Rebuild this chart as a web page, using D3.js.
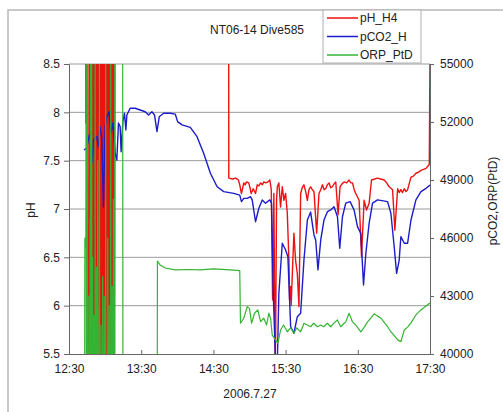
<!DOCTYPE html>
<html>
<head>
<meta charset="utf-8">
<script src="https://cdn.jsdelivr.net/npm/d3@7"></script>
<style>
  body { margin: 0; background: #fff; }
  svg { display: block; }
</style>
</head>
<body>
<div id="chart"></div>
<script>
// times are minutes after 12:30 on 2006.7.27
const startClock = "12:30";
const timeTicks = ["12:30", "13:30", "14:30", "15:30", "16:30", "17:30"];
const phTicks = [5.5, 6, 6.5, 7, 7.5, 8, 8.5];
const rightTicks = [40000, 43000, 46000, 49000, 52000, 55000];
const seriesNames = ["pH_H4", "pCO2_H", "ORP_PtD"];

// pH_H4 (left axis)
const pHH4 = [
  [13.9, 9], [14.0, 7.89], [14.5, 7.89], [14.6, 9], [15.5, 9], [15.6, 5], [16.2, 6.6], [16.5, 5],
  [17.0, 9], [17.4, 5], [17.9, 9], [18.3, 5], [18.8, 9], [19.2, 5], [19.6, 9], [20.0, 5],
  [20.4, 9], [20.8, 5], [21.2, 9], [21.6, 5], [22.0, 9], [22.4, 5], [22.8, 9], [23.2, 5],
  [23.6, 9], [24.1, 5], [24.6, 9], [25.0, 6.0], [25.4, 9], [25.8, 5], [26.2, 9], [26.6, 5],
  [27.0, 9], [27.4, 5], [27.8, 9], [28.2, 5], [28.6, 9], [29.0, 5], [29.4, 9], [29.8, 5],
  [30.2, 9], [30.6, 5], [31.0, 9], [31.4, 5], [31.8, 9], [32.2, 5], [32.6, 9], [33.0, 5],
  [33.4, 9], [33.8, 5], [34.2, 9], [34.6, 5], [35.0, 9], [35.4, 5], [35.8, 9], [36.2, 5],
  [36.6, 9], [37.0, 5], [37.4, 9], [37.8, 5], [38.2, 9],
  [132.7, 9], [132.8, 7.32], [136.0, 7.31], [138.5, 7.32], [140.8, 7.30], [141.9, 7.25],
  [143.3, 7.16], [145.25, 7.27], [146.3, 7.25], [147.5, 7.28], [149.4, 7.27], [150.4, 7.22],
  [151.4, 7.16], [153.1, 7.21], [155, 7.16], [156.4, 7.25], [157.8, 7.24], [159.2, 7.27],
  [160.6, 7.25], [161.9, 7.28], [163.5, 7.27], [165.25, 7.28], [166.9, 7.30], [168.1, 7.20],
  [169.2, 6.06], [170.25, 7.16], [171.25, 5.45], [171.7, 5.65], [172.5, 7.09], [173.1, 7.23],
  [174.4, 7.27], [175.8, 7.02], [177.25, 7.23], [178.6, 7.09], [180, 7.16], [181.4, 6.96],
  [182.75, 6.47], [183.3, 6.06], [184.2, 6.2], [184.6, 6.0], [185.6, 6.33], [186.9, 6.75],
  [188.3, 6.47], [189.75, 6.33], [191.1, 5.99], [192.5, 7.16], [193.8, 7.22], [195.25, 7.25],
  [196.7, 7.18], [198.1, 7.09], [199.4, 7.2], [200.8, 7.23], [202.2, 7.2], [203.6, 7.18],
  [205.8, 6.75], [207.75, 7.16], [209.2, 7.2], [210.6, 7.25], [212.0, 7.2], [213.3, 7.21],
  [214.7, 7.25], [216.1, 7.27], [217.5, 7.22], [218.9, 7.23], [220.3, 7.26], [221.7, 7.28],
  [223.6, 6.94], [225.25, 7.23], [226.9, 7.26], [228.6, 7.28], [230.7, 7.27], [232.75, 7.30],
  [234.2, 7.27], [235.6, 7.27], [237.0, 7.2], [238.3, 7.16], [241.1, 7.09], [243.1, 6.51],
  [245.25, 7.09], [247.25, 6.99], [249.4, 7.06], [251.4, 7.30], [254.0, 7.31], [256.4, 7.32],
  [259.0, 7.31], [261.9, 7.30], [264.0, 7.27], [266.1, 7.23], [268.9, 7.20], [270.8, 6.78],
  [273.1, 7.21], [274.4, 7.17], [275.8, 7.20], [277.2, 7.17], [278.6, 7.21], [280.0, 7.18],
  [281.4, 7.20], [284.2, 7.33], [286.2, 7.34], [288.3, 7.37], [290.4, 7.38], [292.5, 7.40],
  [296.7, 7.42], [299.4, 7.46], [300, 8.6]
];

// pCO2_H (right axis)
const pCO2H = [
  [12.5, 50550], [14.75, 50660], [16.9, 51330], [18.3, 51070], [19.2, 49950], [20.25, 51070],
  [23.1, 51240], [24.4, 50720], [25.8, 51760], [27.25, 51170], [28.6, 47620], [30, 51760],
  [31.4, 52270], [33.3, 52530], [34.75, 51430], [36.4, 51950], [38.3, 50400], [39.75, 50030],
  [41.1, 51950], [42.5, 51760], [43.3, 50460], [44.75, 52020], [46.1, 52450], [47.25, 51590],
  [48.1, 52360], [50.8, 52710], [55, 52710], [59.2, 52620], [63.3, 52530], [66.1, 52360],
  [68.9, 52530], [71.1, 52360], [73.1, 51500], [75, 52270], [78.6, 52450], [84.2, 52450],
  [88.3, 52410], [90.25, 52020], [93.9, 51850], [100.8, 51720], [106.4, 51240], [111.9, 50380],
  [117.5, 49350], [123.1, 48650], [128.6, 48400], [136.9, 48310], [141.9, 48220], [143.3, 47880],
  [145.25, 48050], [148.1, 48050], [150.8, 48140], [152.25, 47970], [155, 46840], [157.75, 47540],
  [160.6, 47970], [163.3, 47800], [166.9, 47970], [168.3, 47800], [169.75, 43140], [171.7, 39500],
  [173.1, 39500], [174.4, 43140], [177.25, 45730], [180, 45380], [181.9, 45030], [184.2, 41410],
  [186.9, 41070], [189.75, 41930], [192.5, 42110], [195.25, 44860], [198.1, 46930], [200.8, 47340],
  [203.6, 46160], [205, 45900], [206.9, 44350], [209.2, 45900], [211.9, 46930], [214.75, 47360],
  [217.5, 47450], [220.25, 47620], [223.1, 47100], [225, 45470], [227.25, 47100], [230, 47800],
  [233.6, 47880], [236.9, 47450], [239.75, 46590], [242.5, 46240], [244.75, 43570], [246.7, 45210],
  [249.4, 46760], [252.25, 47800], [256.4, 47970], [264.75, 47880], [267.5, 47280], [270.25, 45550],
  [272.25, 44170], [274.4, 44860], [275.8, 46070], [278.6, 45730], [281.4, 45730], [284.2, 46930],
  [288.3, 47970], [292.5, 48400], [296.7, 48570], [300, 48740]
];

// ORP_PtD (right axis)
const orpPtD = [
  [13.0, 38000], [13.2, 46000], [14.0, 45500], [14.2, 58000], [14.4, 38000],
  [15.2, 38000], [15.3, 58000], [15.4, 38000],
  [16.4, 38000], [16.5, 43000], [16.7, 38000],
  [17.4, 38000], [17.5, 47000], [17.7, 41000], [17.9, 58000], [18.1, 38000],
  [18.8, 38000], [18.9, 58000], [19.0, 38000],
  [19.6, 38000], [19.7, 45000], [19.8, 38000],
  [20.6, 38000], [20.7, 42000], [20.9, 38000],
  [21.6, 38000], [21.7, 58000], [21.8, 38000],
  [22.7, 38000], [22.8, 44500], [23.0, 38000],
  [23.8, 38000], [23.9, 50000], [24.0, 42000], [24.2, 38000],
  [25.2, 38000], [25.3, 58000], [25.4, 38000],
  [26.5, 38000], [26.6, 41500], [26.8, 38000],
  [27.9, 38000], [28.0, 44000], [28.2, 38000],
  [29.2, 38000], [29.3, 43000], [29.5, 38000],
  [30.4, 38000], [30.5, 58000], [30.6, 38000],
  [32.1, 38000], [32.2, 46000], [32.4, 40500], [32.6, 38000],
  [33.4, 38000], [33.5, 42500], [33.7, 38000],
  [34.6, 38000], [34.7, 58000], [34.8, 38000],
  [35.7, 38000], [35.8, 43500], [36.0, 38000],
  [36.8, 38000], [36.9, 48000], [37.1, 38000],
  [37.9, 38000], [38.0, 58000], [44.6, 58000], [44.8, 38000],
  [73.3, 38000], [73.5, 44810], [75.8, 44600], [80, 44450],
  [88.3, 44350], [100, 44370], [109, 44350], [120, 44400], [134, 44350], [141.9, 44310],
  [142.5, 41590], [145.25, 41850], [148.1, 42450], [150, 42360], [151.7, 41590], [154.2, 42110],
  [156.9, 42280], [159.2, 41670], [161.9, 41850], [164.2, 41500], [166.1, 42110], [167.5, 41850],
  [168.9, 40980], [171.7, 40730], [173.6, 40550], [175.8, 41240], [178.3, 41500], [181.4, 41150],
  [184.2, 41350], [186.9, 41070], [189.2, 41350], [192.5, 41150], [195.25, 41590], [198.1, 41500],
  [200.8, 41410], [203.3, 41590], [206.4, 41410], [209.2, 41500], [211.7, 41410], [214.75, 41590],
  [217.5, 41410], [220.25, 41610], [223.1, 41760], [225.8, 41410], [228.6, 41590], [230, 41660],
  [232.75, 42110], [235.6, 41660], [238.3, 41500], [242.5, 41140], [245, 41350], [248.1, 41660],
  [250.8, 41860], [253.6, 42070], [256.4, 41970], [259.2, 41850], [264.75, 41410], [267.5, 41150],
  [270, 40980], [273.1, 40730], [275.8, 40640], [278.6, 41240], [281.4, 41390], [284.2, 41610],
  [288.3, 42020], [292.5, 42280], [296.7, 42480], [300, 42640]
];

const W = 503, H = 412;
const plot = { left: 69, right: 430, top: 64, bottom: 354 };
const colors = ["#ee1111", "#1c1ccc", "#33b433"];
const font = "'Liberation Sans', Arial, sans-serif";

const svg = d3.select("#chart")
  .append("svg")
    .attr("width", W)
    .attr("height", H)
    .style("background", "#fff");

// chart frame
svg.append("rect")
    .attr("x", 8)
    .attr("y", 10)
    .attr("width", 520)
    .attr("height", 430)
    .attr("fill", "none")
    .attr("stroke", "#b8b8b8")
    .attr("stroke-width", 1.5);

// Scales
const toMinutes = s => {
  const [h, m] = s.split(":").map(Number);
  const [h0, m0] = startClock.split(":").map(Number);
  return (h * 60 + m) - (h0 * 60 + m0);
};

const xScale = d3.scaleLinear()
    .domain([0, 300])
    .range([plot.left, plot.right]);

const yLeft = d3.scaleLinear()
    .domain([5.5, 8.5])
    .range([plot.bottom, plot.top]);

const yRight = d3.scaleLinear()
    .domain([40000, 55000])
    .range([plot.bottom, plot.top]);

// Gridlines
svg.append("g")
  .selectAll("line")
  .data(phTicks.filter(d => d > 5.5 && d < 8.5))
  .join("line")
    .attr("x1", plot.left)
    .attr("x2", plot.right)
    .attr("y1", d => yLeft(d))
    .attr("y2", d => yLeft(d))
    .attr("stroke", "#9a9a9a")
    .attr("stroke-width", 1);

// top border of plot
svg.append("line")
    .attr("x1", plot.left)
    .attr("x2", plot.right)
    .attr("y1", plot.top)
    .attr("y2", plot.top)
    .attr("stroke", "#9a9a9a");

svg.append("clipPath")
    .attr("id", "plotClip")
  .append("rect")
    .attr("x", plot.left)
    .attr("y", plot.top)
    .attr("width", plot.right - plot.left)
    .attr("height", plot.bottom - plot.top);

const lines = svg.append("g").attr("clip-path", "url(#plotClip)");

const lineLeft = d3.line()
    .x(d => xScale(d[0]))
    .y(d => yLeft(d[1]));

const lineRight = d3.line()
    .x(d => xScale(d[0]))
    .y(d => yRight(d[1]));

lines.append("path")
    .datum(pHH4)
    .attr("d", lineLeft)
    .attr("fill", "none")
    .attr("stroke", colors[0])
    .attr("stroke-width", 1.4)
    .attr("stroke-linejoin", "round");

lines.append("path")
    .datum(pCO2H)
    .attr("d", lineRight)
    .attr("fill", "none")
    .attr("stroke", colors[1])
    .attr("stroke-width", 1.4)
    .attr("stroke-linejoin", "round");

lines.append("path")
    .datum(orpPtD)
    .attr("d", lineRight)
    .attr("fill", "none")
    .attr("stroke", colors[2])
    .attr("stroke-width", 1.2)
    .attr("stroke-linejoin", "round");

// Axes
const styleAxis = g => {
  g.select(".domain").attr("stroke", "#666");
  g.selectAll(".tick line").attr("stroke", "#666");
  g.selectAll(".tick text")
      .attr("fill", "#222")
      .style("font-family", font)
      .style("font-size", "12px");
};

svg.append("g")
    .attr("transform", `translate(${plot.left},0)`)
    .call(d3.axisLeft(yLeft).tickValues(phTicks).tickFormat(d3.format("")).tickSizeOuter(0).tickSize(5).tickPadding(4))
    .call(styleAxis);

svg.append("g")
    .attr("transform", `translate(${plot.right},0)`)
    .call(d3.axisRight(yRight).tickValues(rightTicks).tickFormat(d3.format("d")).tickSizeOuter(0).tickSize(4).tickPadding(6))
    .call(styleAxis);

svg.append("g")
    .attr("transform", `translate(0,${plot.bottom})`)
    .call(d3.axisBottom(xScale)
      .tickValues(timeTicks.map(toMinutes))
      .tickFormat((d, i) => timeTicks[i])
      .tickSizeInner(-4).tickSizeOuter(0).tickPadding(10))
    .call(styleAxis);

// Titles
const addText = (txt, x, y, rot) => {
  const t = svg.append("text")
      .text(txt)
      .attr("x", x)
      .attr("y", y)
      .attr("text-anchor", "middle")
      .attr("dominant-baseline", "central")
      .style("font-family", font)
      .style("font-size", "12px")
      .style("fill", "#222");
  if (rot) t.attr("transform", `rotate(-90,${x},${y})`);
  return t;
};

addText("NT06-14 Dive585", 257, 30);
addText("2006.7.27", 250, 394);
addText("pH", 31, 210, true);
addText("pCO2,ORP(PtD)", 493, 201, true);

// Legend
const legend = svg.append("g");
legend.append("rect")
    .attr("x", 323)
    .attr("y", 10)
    .attr("width", 98)
    .attr("height", 53)
    .attr("fill", "#fff")
    .attr("stroke", "#b0b0b0");

const legendRows = legend.selectAll("g.row")
  .data(seriesNames)
  .join("g")
    .attr("class", "row")
    .attr("transform", (d, i) => `translate(0, ${18 + i * 18.5})`);

legendRows.append("line")
    .attr("x1", 327)
    .attr("x2", 358)
    .attr("stroke", (d, i) => colors[i])
    .attr("stroke-width", 1.5);

legendRows.append("text")
    .text(d => d)
    .attr("x", 360)
    .attr("dominant-baseline", "central")
    .style("font-family", font)
    .style("font-size", "12px")
    .style("fill", "#222");
</script>
</body>
</html>
